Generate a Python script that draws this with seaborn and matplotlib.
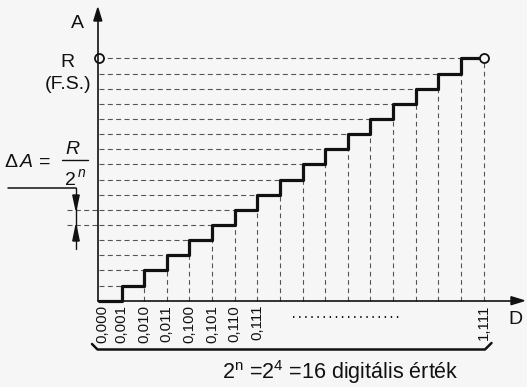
import matplotlib
matplotlib.use("Agg")
import matplotlib.pyplot as plt
import pandas as pd
import seaborn as sns
from matplotlib.patches import Polygon

# ---------------- data ----------------
step_codes = [0, 1, 2, 3, 4, 5, 6, 7, 8, 9, 10, 11, 12, 13, 14, 15, 16, 17]
step_levels = [0, 1, 2, 3, 4, 5, 6, 7, 8, 9, 10, 11, 12, 13, 14, 15, 16, 16]
tick_labels = ["0,000", "0,001", "0,010", "0,011", "0,100", "0,101", "0,110", "0,111", "1,111"]
tick_pos = [0, 1, 2, 3, 4, 5, 6, 7, 17]
full_scale_level = 16
delta_levels = [5, 6]

# ---------------- style ----------------
sns.set_style("white")
plt.rcParams["font.family"] = ["Liberation Sans", "DejaVu Sans"]
plt.rcParams["mathtext.fontset"] = "custom"
plt.rcParams["mathtext.rm"] = "Liberation Sans"
plt.rcParams["mathtext.it"] = "Liberation Sans:italic"
plt.rcParams["lines.scale_dashes"] = False

BG = "#f6f6f6"
INK = "#111111"
DASH = "#555555"

W, H = 527, 387
X0, UX = 99.0, 22.62     # pixel x of D=0, pixels per code
Y0, UY = 300.7, 15.14    # pixel y of A=0, pixels per level

fig = plt.figure(figsize=(W / 100, H / 100), dpi=100, facecolor=BG)
ax = fig.add_axes([0, 0, 1, 1])
ax.set_facecolor(BG)

df = pd.DataFrame({"D": step_codes, "A": step_levels})

# dashed guide lines
for i in range(1, len(step_codes) - 1):
    ax.plot([0, step_codes[i]], [step_levels[i], step_levels[i]], color=DASH,
            lw=0.8, ls=(0, (3.6, 2.4)), zorder=1)
for i in range(2, len(step_codes)):
    ax.plot([step_codes[i], step_codes[i]], [0, step_levels[i - 1]], color=DASH,
            lw=0.8, ls=(0, (3.4, 2.6)), zorder=1)
for lv in delta_levels:
    ax.plot([(67 - X0) / UX, 0], [lv, lv], color=DASH, lw=0.8,
            ls=(0, (3.6, 2.4)), zorder=1)

# staircase
sns.lineplot(data=df, x="D", y="A", drawstyle="steps-post", color=INK,
             linewidth=2.3, estimator=None, sort=False, ax=ax, zorder=3)

# open circles at full scale
ax.plot([0, step_codes[-1]], [full_scale_level, step_levels[-1]], "o",
        mfc=BG, mec=INK, ms=6.5, mew=1.3, zorder=5)

ax.set_xlim(-X0 / UX, (W - X0) / UX)
ax.set_ylim((Y0 - H) / UY, Y0 / UY)
ax.axis("off")

# overlay in pixel coordinates for annotation graphics
ov = fig.add_axes([0, 0, 1, 1], facecolor="none")
ov.set_xlim(0, W)
ov.set_ylim(H, 0)
ov.axis("off")

# axes with arrows
ov.plot([97.8, 97.8], [Y0, 18], color=INK, lw=1.2)
ov.add_patch(Polygon([[97.8, 8], [93.8, 21], [101.8, 21]], closed=True, color=INK))
ov.plot([97.8, 514], [Y0, Y0], color=INK, lw=1.2)
ov.add_patch(Polygon([[524, Y0], [511, Y0 - 4], [511, Y0 + 4]], closed=True, color=INK))

# delta-A arrows
ov.plot([8, 76], [188, 188], color=INK, lw=1.1)
ov.plot([76, 76], [188, 249], color=INK, lw=1.0)
ov.add_patch(Polygon([[76, 209.8], [72.8, 195], [79.2, 195]], closed=True, color=INK))
ov.add_patch(Polygon([[76, 225.3], [72.8, 241], [79.2, 241]], closed=True, color=INK))

# brace under codes
ov.plot([92, 97.5, 485, 491.5], [344, 349.5, 349.5, 343], color=INK, lw=1.8,
        solid_joinstyle="round")

# dotted ellipsis
ov.plot([293, 403], [316.5, 316.5], color=INK, lw=1.4, ls=(0, (1.0, 3.4)))

# texts
ov.text(77.5, 28, "A", fontsize=14, ha="center", va="baseline", color=INK)
ov.text(67.5, 67, "R", fontsize=14, ha="center", va="baseline", color=INK)
ov.text(68, 89, "(F.S.)", fontsize=14, ha="center", va="baseline", color=INK)
ov.text(515.5, 323.5, "D", fontsize=14, ha="center", va="baseline", color=INK)

# delta A formula
ov.text(4, 167, "Δ", fontsize=14, ha="left", va="baseline", color=INK)
ov.text(20, 167, "A", fontsize=14, style="italic", ha="left", va="baseline", color=INK)
ov.text(39, 167, "=", fontsize=14, ha="left", va="baseline", color=INK)
ov.text(72.5, 154.5, "R", fontsize=14, style="italic", ha="center", va="baseline", color=INK)
ov.plot([62, 88], [159.5, 159.5], color=INK, lw=1.0)
ov.text(64.5, 185, "2", fontsize=14, ha="left", va="baseline", color=INK)
ov.text(77.5, 177, "n", fontsize=10, style="italic", ha="left", va="baseline", color=INK)

# code tick labels
for lab, p in zip(tick_labels, tick_pos):
    px = X0 + UX * p + (3.5 if p == 0 else 0)
    ov.text(px, 305, lab, rotation=90, fontsize=10.8, ha="center", va="top", color=INK)

# bottom caption
ov.text(222, 378.5, r"2$^{\mathregular{n}}$ =2$^{\mathregular{4}}$ =16 digitális érték",
        fontsize=15.5, ha="left", va="baseline", color=INK)

fig.savefig("out.png", dpi=100, facecolor=BG)
